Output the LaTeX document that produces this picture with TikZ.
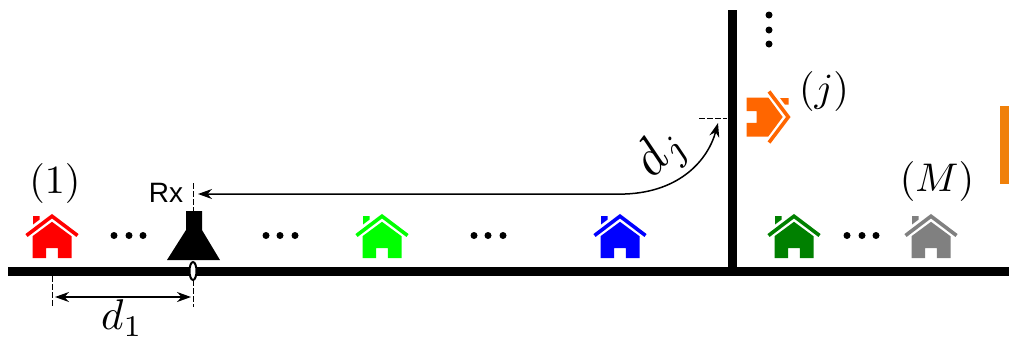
\documentclass[tikz,border=0pt]{standalone}
\usepackage{fontspec}
\newfontfamily\rxfont{Liberation Sans}
\usetikzlibrary{arrows.meta}
\definecolor{hred}{RGB}{255,0,0}
\definecolor{hlime}{RGB}{0,255,0}
\definecolor{hblue}{RGB}{0,0,255}
\definecolor{hdark}{RGB}{0,128,0}
\definecolor{hgray}{RGB}{128,128,128}
\definecolor{horange}{RGB}{255,102,0}
\definecolor{barorange}{RGB}{240,128,10}
\tikzset{
  x=1pt,y=-1pt,
  road/.style={line width=9pt,black},
  guide/.style={line width=1pt,dash pattern=on 6pt off 2pt on 6pt off 2pt},
  dimline/.style={line width=1.5pt,{Stealth[length=14pt,width=10pt]}-{Stealth[length=14pt,width=10pt]}},
  curveline/.style={line width=1.5pt,{Stealth[length=14pt,width=10pt]}-{Stealth[length=14pt,width=10pt]}},
  dotmark/.style={circle,fill=black,inner sep=0pt,minimum size=7pt},
  biglabel/.style={inner sep=0pt,scale=4},
  house/.pic={
    \fill[pic actions] (-19.5,45)--(-19.5,23.2)--(0,8.8)--(19.5,23.2)--(19.5,45)--(5.8,45)--(5.8,35)--(-5.8,35)--(-5.8,45)--cycle;
    \fill[pic actions] (-19,3)--(-12.3,3)--(-12.3,6.5)--(-19,11.5)--cycle;
    \draw[pic actions,line width=3.6pt,miter limit=4] (-25.5,22.5)--(0,3.2)--(25.5,22.5);
  }
}
\begin{document}
\begin{tikzpicture}
\useasboundingbox (0,0) rectangle (1009,341);
% roads
\coordinate (roadL) at (8,271);
\coordinate (roadR) at (1009,271);
\coordinate (vTop) at (732.5,10);
\coordinate (vBot) at (732.5,271);
\draw[road] (roadL)--(roadR);
\draw[road] (vTop)--(vBot);
% bar
\fill[barorange] (1000,106) rectangle (1009,184);
% houses
\pic[hred] at (52,213) {house};
\pic[hlime] at (382,213) {house};
\pic[hblue] at (620,213) {house};
\pic[hdark] at (794,213) {house};
\pic[hgray] at (931,213) {house};
\pic[horange,rotate=-90] at (791.5,117) {house};
% receiver
\fill[black] (186,211)--(202,211)--(202,230)--(220,260)--(167,260)--(186,230)--cycle;
\draw[black,fill=white,line width=2pt] (193,271) ellipse [x radius=3.5pt,y radius=9pt];
% guides
\coordinate (rxTop) at (193,183);
\coordinate (rxMid) at (193,211);
\coordinate (rxLow) at (193,280);
\coordinate (rxBot) at (193,307);
\coordinate (oneTop) at (52,276);
\coordinate (oneBot) at (52,307);
\coordinate (jA) at (699,118);
\coordinate (jB) at (727,118);
\draw[guide] (rxTop)--(rxMid);
\draw[guide] (rxLow)--(rxBot);
\draw[guide] (oneTop)--(oneBot);
\draw[guide] (jA)--(jB);
% dimensions
\coordinate (dA) at (55,297);
\coordinate (dB) at (191,297);
\coordinate (cA) at (198,194);
\coordinate (cB) at (718,123);
\draw[dimline] (dA)--(dB);
\draw[curveline] (cA)--(625,194) .. controls (680,192) and (708,160) .. (cB);
% dots
\foreach \n/\x in {a/114,b/129,c/143,d/266,e/280,f/295,g/474,h/488,i/503,j/847,k/862,l/876}
  \node[dotmark] (dot\n) at (\x,235.5) {};
\foreach \n/\y in {m/15,n/30,o/44}
  \node[dotmark] (dot\n) at (769,\y) {};
% labels
\node[biglabel] (lone) at (55,183) {$(1)$};
\node[biglabel] (lj) at (824,91) {$(j)$};
\node[biglabel] (lM) at (937,181) {$(M)$};
\node[inner sep=0pt,font=\rxfont\fontsize{28}{30}\selectfont] (rx) at (166,193) {Rx};
\node[inner sep=0pt,scale=4.3] (done) at (122,318) {$d_1$};
\node[inner sep=0pt,scale=5.2,rotate=48] (dj) at (662,154) {$d_j$};
\end{tikzpicture}
\end{document}
